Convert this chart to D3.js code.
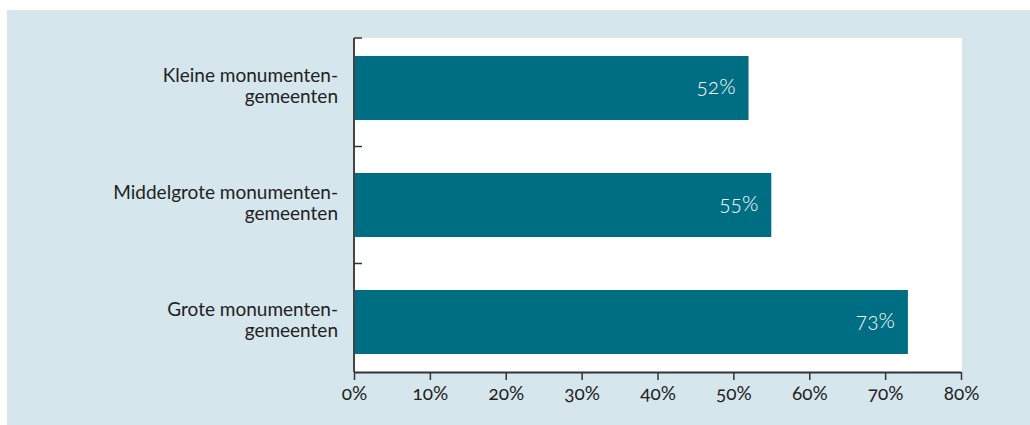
<!DOCTYPE html>
<html>
<head>
<meta charset="utf-8">
<script src="https://cdn.jsdelivr.net/npm/d3@7"></script>
<style>
  html, body { margin: 0; padding: 0; background: #ffffff; }
  svg { display: block; font-family: Lato, "Open Sans", sans-serif; font-feature-settings: "onum" 1; }
</style>
</head>
<body>
<svg id="chart" width="1030" height="425"></svg>
<script>
// Share per municipality group (percent)
const categories = [
  ["Kleine monumenten-", "gemeenten"],
  ["Middelgrote monumenten-", "gemeenten"],
  ["Grote monumenten-", "gemeenten"]
];
const values = [52, 55, 73];
const xTicks = [0, 10, 20, 30, 40, 50, 60, 70, 80];

const svg = d3.select("#chart");
const W = 1030, H = 425;
const plot = { left: 354, right: 961, top: 38, bottom: 372 };

// light blue panel
svg.append("rect")
  .attr("x", 7).attr("y", 10)
  .attr("width", W - 7).attr("height", H - 10)
  .attr("fill", "#d6e6ed");

// white plotting area
svg.append("rect")
  .attr("x", plot.left).attr("y", plot.top)
  .attr("width", plot.right - plot.left + 1).attr("height", plot.bottom - plot.top)
  .attr("fill", "#ffffff");

const x = d3.scaleLinear().domain([0, 80]).range([plot.left, plot.right]);
const y = d3.scaleBand()
  .domain(d3.range(categories.length))
  .range([plot.top, plot.bottom])
  .paddingInner(0.453)
  .paddingOuter(0.154);

// bars
svg.append("g").selectAll("rect")
  .data(values)
  .join("rect")
  .attr("x", x(0))
  .attr("y", (d, i) => y(i))
  .attr("width", d => x(d) - x(0))
  .attr("height", y.bandwidth())
  .attr("fill", "#006e82");

// value labels inside bars
svg.append("g").selectAll("text")
  .data(values)
  .join("text")
  .attr("x", d => x(d) - 13)
  .attr("y", (d, i) => y(i) + y.bandwidth() / 2)
  .attr("dy", "0.28em")
  .attr("text-anchor", "end")
  .attr("fill", "#ffffff")
  .attr("font-size", 21)
  .attr("font-weight", 300)
  .text(d => d + "%");

// x axis
const xAxis = svg.append("g")
  .attr("transform", `translate(0,${plot.bottom})`)
  .call(d3.axisBottom(x).tickValues(xTicks).tickSize(8).tickSizeOuter(0).tickFormat(d => d + "%"));
xAxis.select(".domain").attr("stroke", "#333").attr("stroke-width", 2);
xAxis.selectAll(".tick line").attr("stroke", "#333").attr("stroke-width", 1.5);
xAxis.selectAll(".tick text")
  .attr("fill", "#222")
  .attr("font-size", 19)
  .attr("font-family", "Lato, 'Open Sans', sans-serif")
  .attr("y", 15);

// y axis: vertical line with inward ticks at band boundaries
const boundaries = [plot.top].concat(
  d3.range(1, categories.length).map(i => (y(i - 1) + y.bandwidth() + y(i)) / 2)
);
svg.append("line")
  .attr("x1", plot.left).attr("x2", plot.left)
  .attr("y1", plot.top).attr("y2", plot.bottom)
  .attr("stroke", "#444").attr("stroke-width", 2);
svg.append("g").selectAll("line")
  .data(boundaries)
  .join("line")
  .attr("x1", plot.left).attr("x2", plot.left + 8)
  .attr("y1", d => d).attr("y2", d => d)
  .attr("stroke", "#333").attr("stroke-width", 1.5);

// category labels: one text per line, right aligned
const lines = categories.flatMap((c, i) => c.map((t, j) => ({ t, i, j })));
svg.append("g").selectAll("text")
  .data(lines)
  .join("text")
  .attr("text-anchor", "end")
  .attr("fill", "#222")
  .attr("font-size", 19)
  .attr("x", 338)
  .attr("y", d => y(d.i) + y.bandwidth() / 2 + (d.j === 0 ? -6 : 15))
  .text(d => d.t);
</script>
</body>
</html>
